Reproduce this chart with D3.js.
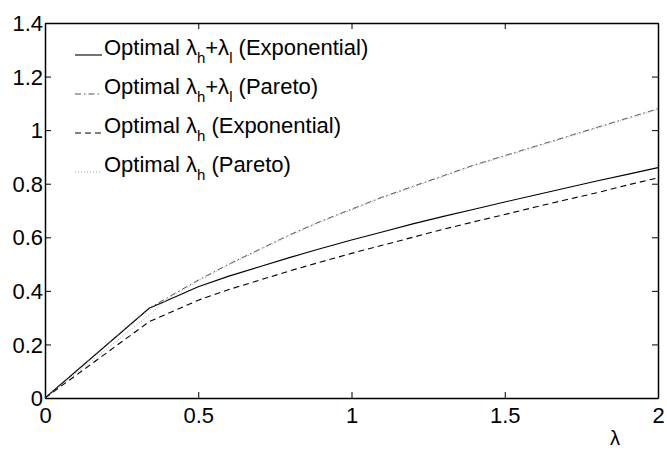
<!DOCTYPE html>
<html>
<head>
  <script src="https://d3js.org/d3.v7.min.js"></script>
  <style>
    body { margin: 0; background: #fff; }
    svg { display: block; font-family: "Liberation Sans", Arial, sans-serif; }
  </style>
</head>
<body>
  <script>
    // values
    const lambdaVals = [0, 0.34, 0.4, 0.5, 0.6, 0.7, 0.8, 0.9, 1.0, 1.1, 1.2, 1.3, 1.4, 1.5, 1.6, 1.7, 1.8, 1.9, 2.0];
    const sumExp     = [0, 0.335, 0.365, 0.415, 0.455, 0.49, 0.525, 0.558, 0.59, 0.62, 0.65, 0.678, 0.705, 0.732, 0.758, 0.784, 0.81, 0.835, 0.86];
    const sumPareto  = [0, 0.335, 0.375, 0.44, 0.50, 0.555, 0.61, 0.66, 0.705, 0.75, 0.79, 0.83, 0.87, 0.905, 0.94, 0.975, 1.01, 1.045, 1.08];
    const hExp       = [0, 0.285, 0.315, 0.365, 0.405, 0.44, 0.475, 0.508, 0.54, 0.57, 0.60, 0.63, 0.658, 0.685, 0.713, 0.74, 0.766, 0.795, 0.822];
    const hPareto    = [0, 0.31, 0.37, 0.437, 0.497, 0.552, 0.607, 0.657, 0.702, 0.747, 0.787, 0.827, 0.867, 0.902, 0.937, 0.972, 1.007, 1.042, 1.077];
    const xTicks = [0, 0.5, 1, 1.5, 2];
    const yTicks = [0, 0.2, 0.4, 0.6, 0.8, 1, 1.2, 1.4];
    const legendLabels = [
      { sub1: "h", sub2: "l", tail: " (Exponential)" },
      { sub1: "h", sub2: "l", tail: " (Pareto)" },
      { sub1: "h", sub2: null, tail: " (Exponential)" },
      { sub1: "h", sub2: null, tail: " (Pareto)" }
    ];

    const series = [
      { values: sumExp, dash: null, width: 1.1, color: "#000" },
      { values: sumPareto, dash: "6,3,1.5,3", width: 0.9, color: "#444" },
      { values: hExp, dash: "6,4", width: 1.1, color: "#000" },
      { values: hPareto, dash: "1,2", width: 0.8, color: "#888" }
    ];

    const width = 667, height = 450;
    const margin = { top: 23, right: 9, bottom: 52, left: 45 };
    const innerW = width - margin.left - margin.right;
    const innerH = height - margin.top - margin.bottom;
    const fontSize = 22;

    const svg = d3.select("body").append("svg")
      .attr("width", width)
      .attr("height", height);

    const g = svg.append("g")
      .attr("transform", `translate(${margin.left},${margin.top})`);

    const x = d3.scaleLinear().domain([0, 2]).range([0, innerW]);
    const y = d3.scaleLinear().domain([0, 1.4]).range([innerH, 0]);

    // axes with inward ticks, mirrored on top and right
    const fmt = d => d3.format("")(d);
    const axBottom = g.append("g")
      .attr("transform", `translate(0,${innerH})`)
      .call(d3.axisBottom(x).tickValues(xTicks).tickSizeInner(-6).tickSizeOuter(0).tickPadding(9).tickFormat(fmt));
    const axLeft = g.append("g")
      .call(d3.axisLeft(y).tickValues(yTicks).tickSizeInner(-6).tickSizeOuter(0).tickPadding(2).tickFormat(fmt));
    const axTop = g.append("g")
      .call(d3.axisTop(x).tickValues(xTicks).tickSizeInner(-6).tickSizeOuter(0).tickFormat(""));
    const axRight = g.append("g")
      .attr("transform", `translate(${innerW},0)`)
      .call(d3.axisRight(y).tickValues(yTicks).tickSizeInner(-6).tickSizeOuter(0).tickFormat(""));

    [axBottom, axLeft, axTop, axRight].forEach(ax => {
      ax.select(".domain").attr("stroke", "#000").attr("stroke-width", 1.5);
      ax.selectAll(".tick line").attr("stroke", "#000").attr("stroke-width", 1);
      ax.selectAll(".tick text")
        .attr("fill", "#000")
        .style("font-size", fontSize + "px")
        .style("font-family", "Liberation Sans, Arial, sans-serif");
    });
    axBottom.selectAll(".tick text").attr("dy", "0.71em");
    axLeft.selectAll(".tick text").attr("dy", "0.35em");

    // lines
    const line = d3.line()
      .x((d, i) => x(lambdaVals[i]))
      .y(d => y(d));

    series.forEach(s => {
      g.append("path")
        .datum(s.values)
        .attr("fill", "none")
        .attr("stroke", s.color)
        .attr("stroke-width", s.width)
        .attr("stroke-dasharray", s.dash)
        .attr("stroke-linejoin", "round")
        .attr("d", line);
    });

    // x label
    svg.append("text")
      .attr("x", 615)
      .attr("y", 445)
      .attr("text-anchor", "middle")
      .style("font-size", "20px")
      .text("λ");

    // legend (no box)
    const legY0 = 55, legStep = 39;
    legendLabels.forEach((lab, i) => {
      const yy = legY0 + i * legStep;
      const s = series[i];
      svg.append("line")
        .attr("x1", 75).attr("x2", 102)
        .attr("y1", yy).attr("y2", yy)
        .attr("stroke", s.color)
        .attr("stroke-width", s.width)
        .attr("stroke-dasharray", s.dash);
      const t = svg.append("text")
        .attr("x", 104)
        .attr("y", yy)
        .style("font-size", fontSize + "px");
      t.append("tspan").text("Optimal λ");
      t.append("tspan").attr("dy", 8).style("font-size", "15px").text(lab.sub1);
      if (lab.sub2) {
        t.append("tspan").attr("dy", -8).text("+λ");
        t.append("tspan").attr("dy", 8).style("font-size", "15px").text(lab.sub2);
      }
      t.append("tspan").attr("dy", -8).text(lab.tail);
    });
  </script>
</body>
</html>
